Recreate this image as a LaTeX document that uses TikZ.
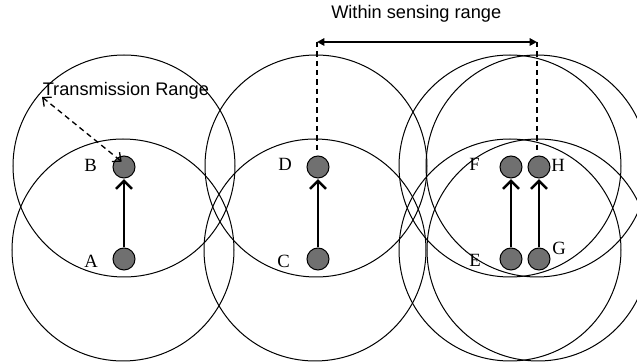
\documentclass[tikz,border=0pt]{standalone}
\usepackage{fontspec}
\setmainfont{Liberation Serif}
\newfontfamily\arialfont{Liberation Sans}
\usetikzlibrary{arrows.meta}
\definecolor{dotgray}{HTML}{707070}
\begin{document}
\begin{tikzpicture}[x=0.75pt,y=-0.75pt,
  rangecircle/.style={circle,draw=black,line width=0.75pt,minimum size=166.5pt,inner sep=0pt},
  sensor/.style={circle,draw=black,fill=dotgray,line width=0.75pt,minimum size=16.5pt,inner sep=0pt},
  lbl/.style={font=\fontsize{14pt}{16pt}\selectfont,anchor=base west,inner sep=0pt},
  sanslbl/.style={font=\arialfont\fontsize{13.65pt}{15pt}\selectfont,anchor=base west,inner sep=0pt},
  move/.style={line width=1.8pt,-{Straight Barb[length=6pt,width=12pt]},shorten >=0.5pt},
  guide/.style={line width=1pt,dash pattern=on 4pt off 3pt},
  txarrow/.style={line width=1pt,dash pattern=on 4pt off 3pt,{Straight Barb[length=5pt,width=9pt]}-{Straight Barb[length=5pt,width=9pt]}},
  sensearrow/.style={line width=1.8pt,{Triangle[length=5.5pt,width=5.5pt]}-{Triangle[length=5.5pt,width=5.5pt]}}
]
\useasboundingbox (0,0) rectangle (637,363);
% range circles
\node[rangecircle] (rB) at (124,166) {};
\node[rangecircle] (rA) at (123,250) {};
\node[rangecircle] (rD) at (316,166) {};
\node[rangecircle] (rC) at (315,250) {};
\node[rangecircle] (rF) at (510,166) {};
\node[rangecircle] (rH) at (537,166) {};
\node[rangecircle] (rE) at (510,250) {};
\node[rangecircle] (rG) at (538,250) {};
% sensors
\node[sensor] (A) at (124,259) {};
\node[sensor] (B) at (124,167) {};
\node[sensor] (C) at (318,259) {};
\node[sensor] (D) at (318,167) {};
\node[sensor] (E) at (511,259) {};
\node[sensor] (F) at (511,167) {};
\node[sensor] (G) at (539,259) {};
\node[sensor] (H) at (539,167) {};
% labels
\node[lbl] (lA) at (84,268) {A};
\node[lbl] (lB) at (84,171.5) {B};
\node[lbl] (lC) at (277,267.5) {C};
\node[lbl] (lD) at (278,171) {D};
\node[lbl] (lE) at (469,267) {E};
\node[lbl] (lF) at (469,171) {F};
\node[lbl] (lG) at (552,255) {G};
\node[lbl] (lH) at (551,171.5) {H};
% movement arrows
\draw[move] (A) -- (B);
\draw[move] (C) -- (D);
\draw[move] (E) -- (F);
\draw[move] (G) -- (H);
% sensing range
\coordinate (s1) at (317,42);
\coordinate (s2) at (537,42);
\coordinate (s1b) at (317,153);
\coordinate (s2b) at (537,153);
\draw[guide] (s1) -- (s1b);
\draw[guide] (s2) -- (s2b);
\draw[sensearrow] (s1) -- (s2);
\node[sanslbl] (sensetxt) at (331,18.3) {Within sensing range};
% transmission range
\coordinate (t1) at (42,97);
\coordinate (t2) at (121.7,161.7);
\draw[txarrow] (t1) -- (t2);
\node[sanslbl] (txtxt) at (42.5,96) {Transmission Range};
\end{tikzpicture}
\end{document}
